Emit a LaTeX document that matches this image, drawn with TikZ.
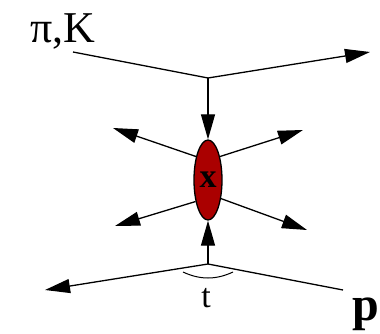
\documentclass[tikz,border=0pt]{standalone}
\usepackage{fontspec}
\setmainfont{Liberation Serif}
\usetikzlibrary{
    arrows.meta,
    positioning,
    shapes.geometric
}
\definecolor{blobred}{RGB}{170,0,0}

\begin{document}
\begin{tikzpicture}[
    x=1pt,
    y=-1pt,
    >={Triangle[length=25pt,width=14pt]},
    line width=1.3pt,
    blob/.style={
        ellipse,
        draw,
        fill=blobred,
        line width=1.3pt,
        inner sep=0pt,
        minimum width=28pt,
        minimum height=80pt
    },
    lbl/.style={
        inner sep=0pt
    }
]
\useasboundingbox (0,0) rectangle (380,334);

%--------------------------------------------------
\node[blob] (blob) at (208,180)
{
\fontsize{34}{34}\selectfont\bfseries x
};

\coordinate (vtop) at (208,78);
\coordinate (vbot) at (208,264);
\coordinate (beamin) at (73,52);
\coordinate (beamout) at (370,52);
\coordinate (tgtout) at (45,290);
\coordinate (tgtin) at (343,290);
\coordinate (ul) at (113,128);
\coordinate (ur) at (303,130);
\coordinate (ll) at (115,226);
\coordinate (lr) at (307,230);

\node[lbl,anchor=base west] (beam) at (30,43)
{
\fontsize{44}{44}\selectfont π,K
};

\node[lbl,anchor=base] (tlabel) at (206,307)
{
\fontsize{34}{34}\selectfont t
};

\node[lbl,anchor=base west] (target) at (352,320)
{
\fontsize{48}{48}\selectfont\bfseries p
};

%--------------------------------------------------
\draw (beamin) -- (vtop);
\draw[->] (vtop) -- (beamout);
\draw[->] (vtop) -- (blob.north);

\draw[->] (vbot) -- (blob.south);
\draw[->] (vbot) -- (tgtout);
\draw (vbot) -- (tgtin);

\draw[line width=1pt] (183,272) .. controls (200,280) and (216,280) .. (233,272);

\draw[->] (blob.117) -- (ul);
\draw[->] (blob.63) -- (ur);
\draw[->] (blob.240) -- (ll);
\draw[->] (blob.305) -- (lr);

\end{tikzpicture}
\end{document}
